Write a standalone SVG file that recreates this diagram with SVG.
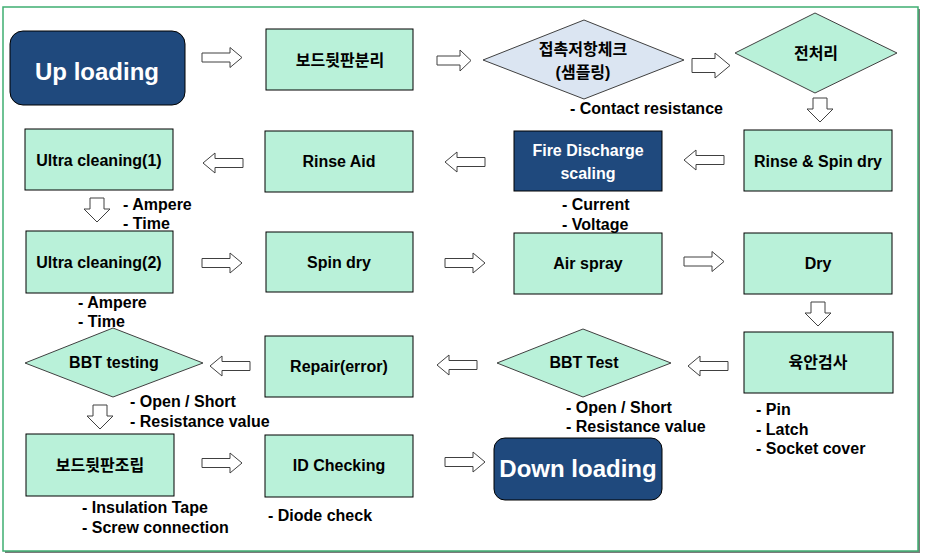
<svg xmlns="http://www.w3.org/2000/svg" xmlns:xlink="http://www.w3.org/1999/xlink" width="930" height="560" viewBox="0 0 930 560">
<style>
text{font-family:"Liberation Sans","Noto Sans CJK KR",sans-serif;font-weight:bold;font-size:16px;fill:#000}
.c{text-anchor:middle}
.w{fill:#fff}
.big{font-size:24px}
.box{fill:#b9f1d9;stroke:#000;stroke-width:1}
.dark{fill:#1f497d;stroke:#000;stroke-width:1}
.dia{fill:#b9f1d9;stroke:#404040;stroke-width:1}
.blue{fill:#dbe5f2;stroke:#404040;stroke-width:1}
.arr{fill:#fff;stroke:#404040;stroke-width:1}
</style>
<defs>
<path id="ar" d="M0,-4.5 H28 V-10 L40,0 L28,10 V4.5 H0 Z"/>
<path id="al" d="M0,0 L12,-10 V-4.5 H40 V4.5 H12 V10 Z"/>
<path id="ad" d="M-7,0 H7 V11 H13 L0,24 L-13,11 H-7 Z"/>
</defs>
<rect x="0" y="0" width="930" height="560" fill="#fff"/>
<rect x="5" y="9" width="915" height="544" fill="#7a7a7a"/>
<rect x="3" y="7" width="915" height="544" fill="#fff" stroke="#3fae72" stroke-width="1.5"/>

<g id="connectors">
<use xlink:href="#ar" class="arr" x="202" y="57.5"/>
<path class="arr" d="M437,56 H460 V50 L471,60.5 L460,71 V65 H437 Z"/>
<path class="arr" d="M692,58.5 H715 V53 L730,65.5 L715,78 V72.5 H692 Z"/>
<use xlink:href="#ad" class="arr" x="820" y="98"/>
<use xlink:href="#al" class="arr" x="203" y="163"/>
<use xlink:href="#al" class="arr" x="445" y="162"/>
<use xlink:href="#al" class="arr" x="684" y="160"/>
<use xlink:href="#ad" class="arr" x="97" y="198"/>
<use xlink:href="#ar" class="arr" x="202" y="263"/>
<use xlink:href="#ar" class="arr" x="445" y="263"/>
<use xlink:href="#ar" class="arr" x="684" y="261.5"/>
<use xlink:href="#ad" class="arr" x="818" y="302"/>
<use xlink:href="#al" class="arr" x="210" y="366"/>
<use xlink:href="#al" class="arr" x="437" y="365"/>
<use xlink:href="#al" class="arr" x="688" y="366"/>
<use xlink:href="#ad" class="arr" x="100" y="405"/>
<use xlink:href="#ar" class="arr" x="202" y="463"/>
<use xlink:href="#ar" class="arr" x="445" y="462"/>
</g>

<g id="n-uploading">
<rect class="dark" x="10" y="31" width="175" height="74" rx="13"/>
<text class="c w big" x="97" y="80">Up loading</text>
</g>
<g id="n-separate">
<rect class="box" x="266" y="29" width="147" height="61"/>
<text class="c" x="340" y="66">보드뒷판분리</text>
</g>
<g id="n-contact">
<polygon class="blue" points="483,60 584,20 684,60 584,99"/>
<text class="c" x="583" y="55">접촉저항체크</text>
<text class="c" x="583" y="78">(샘플링)</text>
</g>
<text x="570" y="114">- Contact resistance</text>
<g id="n-pre">
<polygon class="dia" points="735,53 815,13 897,53 815,93"/>
<text class="c" x="816" y="59">전처리</text>
</g>

<g id="n-ultra1">
<rect class="box" x="25" y="129" width="148" height="61"/>
<text class="c" x="99" y="166">Ultra cleaning(1)</text>
</g>
<text x="123" y="210">- Ampere</text>
<text x="123" y="229">- Time</text>
<g id="n-rinseaid">
<rect class="box" x="265" y="131" width="148" height="61"/>
<text class="c" x="339" y="167">Rinse Aid</text>
</g>
<g id="n-fire">
<rect class="dark" x="514" y="131" width="148" height="60"/>
<text class="c w" x="588" y="156">Fire Discharge</text>
<text class="c w" x="588" y="179">scaling</text>
</g>
<text x="562" y="210">- Current</text>
<text x="562" y="230">- Voltage</text>
<g id="n-rinsespin">
<rect class="box" x="744" y="130" width="148" height="61"/>
<text class="c" x="818" y="167">Rinse &amp; Spin dry</text>
</g>

<g id="n-ultra2">
<rect class="box" x="26" y="231" width="147" height="62"/>
<text class="c" x="99" y="268">Ultra cleaning(2)</text>
</g>
<text x="78" y="308">- Ampere</text>
<text x="78" y="327">- Time</text>
<g id="n-spindry">
<rect class="box" x="266" y="232" width="147" height="60"/>
<text class="c" x="339" y="268">Spin dry</text>
</g>
<g id="n-airspray">
<rect class="box" x="514" y="233" width="148" height="61"/>
<text class="c" x="588" y="269">Air spray</text>
</g>
<g id="n-dry">
<rect class="box" x="744" y="233" width="148" height="61"/>
<text class="c" x="818" y="269">Dry</text>
</g>

<g id="n-bbttesting">
<polygon class="dia" points="25,363 113,328 203,363 113,397"/>
<text class="c" x="114" y="368">BBT testing</text>
</g>
<text x="130" y="407">- Open / Short</text>
<text x="130" y="427">- Resistance value</text>
<g id="n-repair">
<rect class="box" x="265" y="336" width="148" height="61"/>
<text class="c" x="339" y="372">Repair(error)</text>
</g>
<g id="n-bbttest">
<polygon class="dia" points="497,363 583,329 671,363 583,397"/>
<text class="c" x="584" y="368">BBT Test</text>
</g>
<text x="566" y="413">- Open / Short</text>
<text x="566" y="432">- Resistance value</text>
<g id="n-visual">
<rect class="box" x="744" y="332" width="149" height="61"/>
<text class="c" x="818" y="368">육안검사</text>
</g>
<text x="756" y="415">- Pin</text>
<text x="756" y="435">- Latch</text>
<text x="756" y="454">- Socket cover</text>

<g id="n-assemble">
<rect class="box" x="26" y="434" width="148" height="62"/>
<text class="c" x="100" y="471">보드뒷판조립</text>
</g>
<text x="82" y="513">- Insulation Tape</text>
<text x="82" y="533">- Screw connection</text>
<g id="n-id">
<rect class="box" x="265" y="435" width="148" height="62"/>
<text class="c" x="339" y="471">ID Checking</text>
</g>
<text x="268" y="521">- Diode check</text>
<g id="n-downloading">
<rect class="dark" x="494" y="438" width="168" height="62" rx="11"/>
<text class="c w big" x="578" y="477">Down loading</text>
</g>
</svg>
